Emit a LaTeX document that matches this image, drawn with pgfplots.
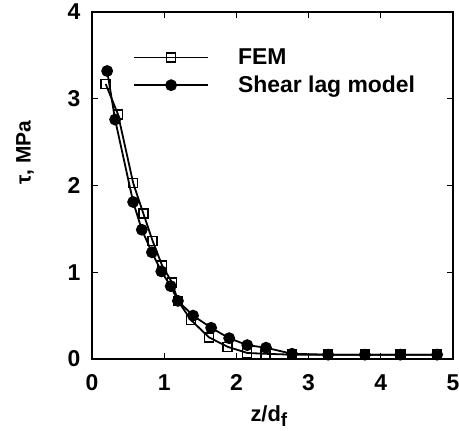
\documentclass[border=0pt]{standalone}
\usepackage{fontspec}
\setmainfont{Liberation Sans}
\usepackage{pgfplots}
\pgfplotsset{compat=1.18}
\begin{document}
\begin{tikzpicture}
\path[use as bounding box] (-92bp,-72bp) rectangle (367bp,359bp);
\begin{axis}[
  scale only axis,
  width=361bp, height=347bp,
  xmin=0, xmax=5, ymin=0, ymax=4,
  xtick={0,1,2,3,4,5}, ytick={0,1,2,3,4},
  tick align=inside,
  major tick length=6bp,
  axis line style={line width=1.8bp},
  every tick/.style={line width=1.2bp, black},
  tick label style={font=\fontsize{23}{27}\selectfont\bfseries},
  /pgf/number format/assume math mode=true,
  xticklabel style={yshift=-12bp},
  yticklabel style={xshift=-8bp},
  xlabel={z/d\raisebox{-5bp}{\fontsize{19}{19}\selectfont f}},
  ylabel={τ, MPa},
  every axis x label/.style={at={(axis description cs:0.49,0)}, anchor=base, yshift=-62bp,
     font=\fontsize{22}{26}\selectfont\bfseries},
  every axis y label/.style={at={(axis description cs:-0.1856,0.595)}, anchor=center, rotate=90,
     font=\fontsize{21}{25}\selectfont\bfseries},
  legend style={draw=none, fill=none, at={(axis description cs:0.1136,0.90)}, anchor=north west,
     inner sep=0pt, row sep=6bp, nodes={inner xsep=0pt}, font=\fontsize{23}{27}\selectfont\bfseries},
  legend cell align=left,
  legend image code/.code={%
    \draw[mark repeat=2,mark phase=2,#1] plot coordinates {(0bp,0bp) (37bp,0bp) (74bp,0bp)};
    \path[draw=none,fill=none] (0bp,0bp) -- (104bp,0bp);},
]
\addplot[black, line width=1.8bp, mark=square, mark size=4.5bp, mark options={fill=white, line width=1.5bp, solid}]
coordinates {
(0.19,3.17) (0.36,2.82) (0.57,2.03) (0.71,1.68) (0.84,1.36) (0.97,1.08) (1.11,0.88)
(1.19,0.67) (1.37,0.45) (1.62,0.25) (1.88,0.14) (2.15,0.07) (2.40,0.06) (2.77,0.05)
(3.27,0.05) (3.78,0.05) (4.27,0.05) (4.78,0.05)
};
\addlegendentry{FEM}
\addplot[black, line width=1.8bp, mark=*, mark size=5bp, mark options={fill=black, solid}]
coordinates {
(0.21,3.32) (0.32,2.76) (0.57,1.81) (0.69,1.49) (0.83,1.23) (0.96,1.01) (1.09,0.84)
(1.19,0.67) (1.40,0.50) (1.65,0.36) (1.90,0.24) (2.15,0.16) (2.41,0.13) (2.77,0.06)
(3.27,0.05) (3.78,0.05) (4.27,0.05) (4.78,0.05)
};
\addlegendentry{Shear lag model}
\end{axis}
\end{tikzpicture}
\end{document}
